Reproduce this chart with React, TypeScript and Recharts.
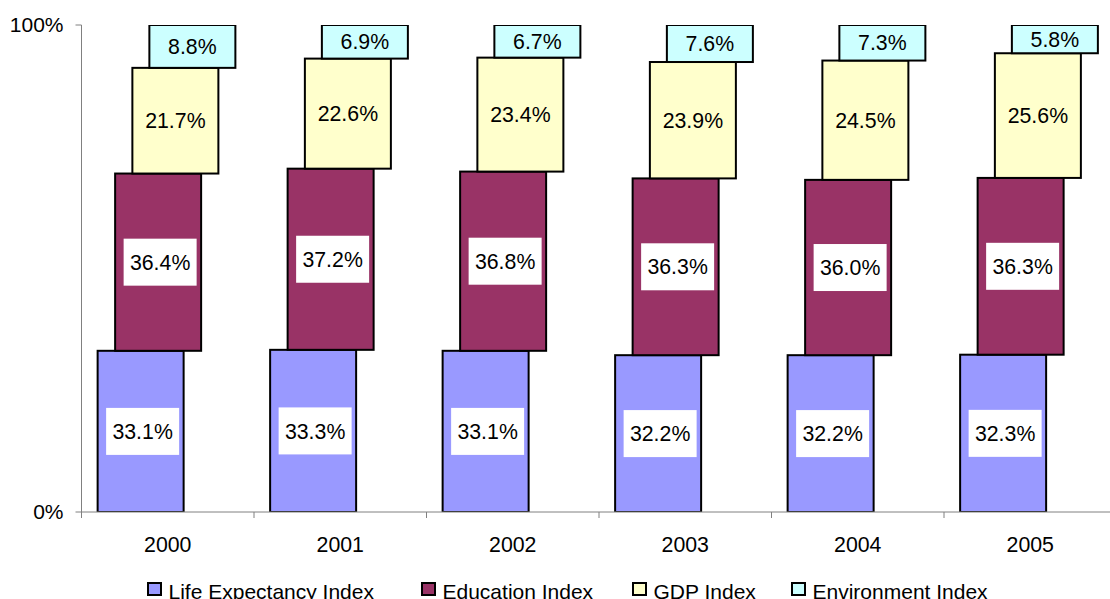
import { BarChart, Bar, XAxis, YAxis, LabelList } from "recharts";

const years = ["2000", "2001", "2002", "2003", "2004", "2005"];
const lifeExpectancy = [33.1, 33.3, 33.1, 32.2, 32.2, 32.3];
const education = [36.4, 37.2, 36.8, 36.3, 36.0, 36.3];
const gdp = [21.7, 22.6, 23.4, 23.9, 24.5, 25.6];
const environment = [8.8, 6.9, 6.7, 7.6, 7.3, 5.8];

const seriesNames = [
  "Life Expectancy Index",
  "Education Index",
  "GDP Index",
  "Environment Index",
];

const FONT = '"Liberation Sans", Arial, sans-serif';

const series = [
  { key: "life", name: seriesNames[0], color: "#9999FF", boxed: true, shift: -27, legendX: 147 },
  { key: "education", name: seriesNames[1], color: "#993366", boxed: true, shift: -9.5, legendX: 421 },
  { key: "gdp", name: seriesNames[2], color: "#FFFFCC", boxed: false, shift: 7.75, legendX: 632 },
  { key: "environment", name: seriesNames[3], color: "#CCFFFF", boxed: false, shift: 24.75, legendX: 791 },
];

const data = years.map((year, i) => ({
  year,
  life: lifeExpectancy[i],
  education: education[i],
  gdp: gdp[i],
  environment: environment[i],
}));

// each series is nudged sideways so the stack looks like steps
const shiftedBar = (shift: number) => (props: any) => {
  const { x, y, width, height, fill } = props;
  if (height == null || width == null) return <g />;
  return (
    <rect
      x={x + shift}
      y={y}
      width={width}
      height={height}
      fill={fill}
      stroke="#000"
      strokeWidth={2}
    />
  );
};

const valueLabel = (shift: number, boxed: boolean) => (props: any) => {
  const vb = props.viewBox ?? props;
  const x = vb.x ?? props.x;
  const y = vb.y ?? props.y;
  const width = vb.width ?? props.width;
  const height = vb.height ?? props.height;
  if (x == null || y == null) return null;
  const cx = x + width / 2 + shift + (boxed ? 2 : 0);
  const cy = y + height / 2;
  return (
    <g>
      {boxed && <rect x={cx - 36.5} y={cy - 23.5} width={73} height={47} fill="#fff" />}
      <text
        x={cx}
        y={cy}
        dy="0.36em"
        textAnchor="middle"
        fontFamily={FONT}
        fontSize={21.3}
        fill="#000"
      >
        {Number(props.value).toFixed(1)}%
      </text>
    </g>
  );
};

const YearTick = (props: any) => {
  const { x, y, payload } = props;
  const band = (props.width ?? 1035) / years.length;
  const axisY = y - 25;
  return (
    <g>
      <line x1={x - band / 2} x2={x - band / 2} y1={axisY} y2={axisY + 6} stroke="#808080" />
      <text x={x} y={y} dy="0.71em" textAnchor="middle" fontFamily={FONT} fontSize={21.3} fill="#000">
        {payload.value}
      </text>
    </g>
  );
};

export default function App() {
  return (
    <div
      style={{
        position: "fixed",
        left: 0,
        top: 0,
        width: 1110,
        height: 599,
        overflow: "hidden",
        background: "#fff",
      }}
    >
      <BarChart
        width={1120}
        height={610}
        data={data}
        margin={{ top: 25, right: 3.5, bottom: 58, left: 0.5 }}
        barCategoryGap="25%"
      >
        <XAxis
          dataKey="year"
          height={40}
          stroke="#808080"
          tickLine={false}
          tickSize={6}
          tickMargin={19}
          tick={<YearTick />}
          interval={0}
        />
        <YAxis
          domain={[0, 100]}
          ticks={[0, 100]}
          allowDataOverflow
          width={81}
          stroke="#808080"
          tickSize={6}
          tickMargin={12}
          tickFormatter={(v: number) => `${v}%`}
          tick={{ fill: "#000", fontSize: 21, fontFamily: FONT }}
        />
        {series.map((s) => (
          <Bar
            key={s.key}
            dataKey={s.key}
            name={s.name}
            stackId="all"
            fill={s.color}
            shape={shiftedBar(s.shift)}
            isAnimationActive={false}
          >
            <LabelList dataKey={s.key} content={valueLabel(s.shift, s.boxed)} />
          </Bar>
        ))}
      </BarChart>
      {series.map((s) => (
        <div
          key={s.key}
          style={{
            position: "absolute",
            left: s.legendX,
            top: 580,
            display: "flex",
            alignItems: "flex-start",
            fontFamily: FONT,
            fontSize: 21,
            lineHeight: "normal",
            whiteSpace: "nowrap",
            color: "#000",
          }}
        >
          <span
            style={{
              display: "inline-block",
              width: 15,
              height: 14,
              boxSizing: "border-box",
              border: "2px solid #000",
              background: s.color,
              marginTop: 2,
              marginRight: 6.5,
            }}
          />
          <span>{s.name}</span>
        </div>
      ))}
    </div>
  );
}
